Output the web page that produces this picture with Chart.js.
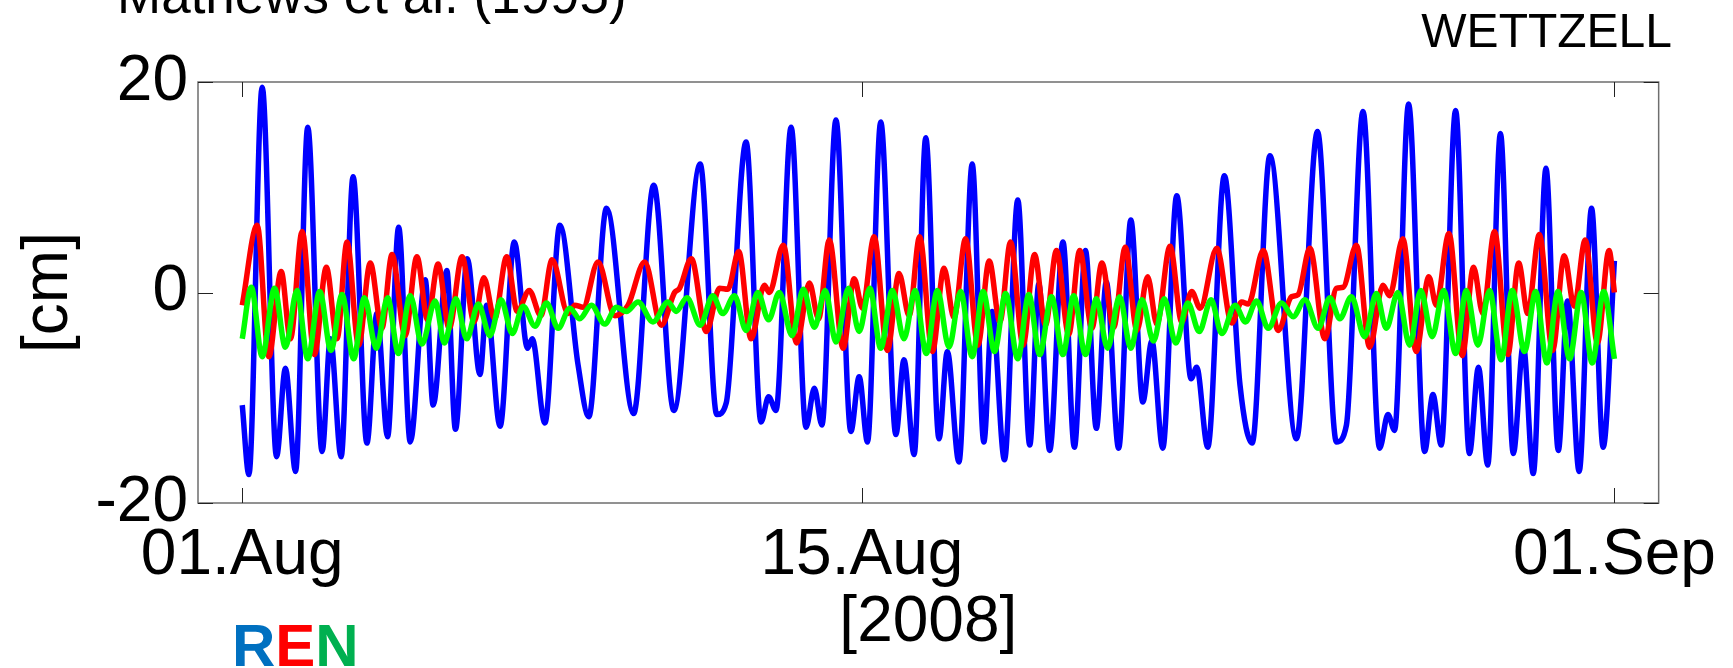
<!DOCTYPE html>
<html>
<head>
<meta charset="utf-8">
<title>WETTZELL</title>
<script src="https://cdn.jsdelivr.net/npm/chart.js@4.4.1/dist/chart.umd.min.js"></script>
<style>
  html, body { margin: 0; padding: 0; background: #fff; }
  #wrap { width: 1733px; height: 668px; }
</style>
</head>
<body>
<div id="wrap"><canvas id="tides" width="1733" height="668"></canvas></div>
<script>
const radial = [
  [0, -10.7], [3.6, -17.3], [10.8, 19.5], [18.6, -15.6], [23.4, -7.2], [28.9, -17.0],
  [35.5, 15.7], [43.3, -15.1], [47.8, -4.4], [53.6, -15.6], [60.1, 11.0], [67.6, -14.3],
  [73.0, -2.0], [78.8, -13.7], [84.8, 6.2], [91.1, -14.2], [99.2, 1.2], [103.5, -10.7],
  [110.9, 2.1], [115.6, -13.0], [122.0, 3.2], [128.9, -7.8], [132.5, -1.2], [139.8, -12.7],
  [147.5, 4.8], [154.7, -5.3], [157.2, -4.4], [164.1, -12.4], [172.2, 6.4], [182.1, -6.9],
  [187.9, -11.8], [197.5, 8.0], [212.2, -11.5], [223.1, 10.2], [234.0, -11.2], [248.3, 12.2],
  [257.3, -11.6], [262.4, -10.5], [273.2, 14.3], [281.3, -12.3], [285.4, -9.9], [289.4, -11.2],
  [297.6, 15.7], [305.7, -12.8], [310.2, -9.1], [314.3, -12.6], [321.9, 16.4], [330.0, -13.2],
  [334.5, -8.0], [339.0, -14.2], [346.2, 16.2], [354.4, -13.5], [358.8, -6.4], [364.3, -15.4],
  [370.6, 14.7], [377.8, -13.9], [382.3, -5.6], [388.6, -16.1], [395.8, 12.2], [402.1, -14.2],
  [406.6, -1.8], [413.3, -15.9], [420.5, 8.8], [427.0, -14.5], [431.9, 0.8], [437.8, -15.0],
  [445.0, 4.8], [451.2, -14.7], [457.2, 4.0], [463.1, -12.9], [468.5, 1.0], [475.2, -14.8],
  [481.8, 6.9], [488.3, -10.4], [493.2, -4.6], [499.1, -14.8], [506.7, 9.2], [514.5, -8.2],
  [517.5, -7.1], [523.5, -14.7], [532.5, 11.1], [541.0, -8.8], [547.6, -14.3], [557.2, 13.0],
  [571.6, -13.9], [583.0, 15.3], [593.3, -14.2], [598.7, -12.6], [607.7, 17.2], [616.7, -14.8],
  [621.2, -11.6], [624.8, -13.1], [632.4, 17.9], [641.1, -15.1], [645.6, -9.7], [650.1, -14.5],
  [657.9, 17.3], [665.4, -15.3], [670.3, -7.1], [675.3, -16.4], [682.2, 15.1], [689.2, -15.3],
  [694.6, -5.0], [700.0, -17.2], [706.9, 11.8], [713.6, -15.0], [718.6, -0.8], [724.9, -17.0],
  [731.6, 8.0], [737.9, -14.7], [744.0, 3.0]
];

const east = [
  [0, -1.2], [8.1, 6.4], [14.4, -6.1], [21.1, 2.0], [26.1, -4.4], [32.5, 5.8], [39.1, -5.9],
  [45.6, 2.4], [51.4, -4.4], [56.8, 4.8], [63.1, -5.0], [69.4, 2.8], [75.7, -3.4], [81.2, 3.6],
  [88.3, -4.1], [94.7, 3.4], [100.5, -2.6], [106.2, 2.7], [112.2, -3.4], [119.2, 3.4],
  [125.7, -2.8], [131.0, 1.4], [136.8, -2.5], [143.4, 3.4], [149.1, -1.8], [155.6, 0.2],
  [161.9, -2.2], [168.0, 3.1], [176.7, -2.0], [180.3, -1.2], [184.8, -1.4], [192.9, 2.9],
  [202.0, -2.2], [209.2, -1.2], [218.2, 2.9], [227.2, -3.1], [234.4, 0.0], [237.1, 0.4],
  [243.5, 3.2], [251.6, -3.7], [258.8, 0.4], [263.3, 0.3], [269.2, 3.9], [275.9, -4.4],
  [283.1, 0.7], [285.8, 0.0], [293.4, 4.5], [300.6, -4.8], [307.5, 0.9], [312.5, -2.5],
  [318.3, 5.0], [325.8, -5.3], [331.8, 1.3], [336.3, -1.5], [342.6, 5.3], [349.8, -5.5],
  [356.1, 1.8], [361.6, -2.2], [367.3, 5.3], [374.2, -5.6], [380.5, 2.3], [385.9, -2.4],
  [392.2, 5.1], [398.9, -5.0], [405.0, 3.0], [410.8, -2.8], [416.6, 4.8], [423.4, -5.0],
  [429.6, 3.6], [435.5, -3.1], [441.5, 4.0], [448.1, -4.0], [454.1, 4.0], [460.7, -3.4],
  [466.1, 2.8], [472.5, -3.3], [478.8, 4.3], [485.1, -3.6], [490.9, 1.5], [495.9, -3.0],
  [503.1, 4.4], [509.4, -2.8], [514.8, 0.1], [519.4, -1.5], [528.4, 4.2], [536.5, -2.9],
  [541.9, -0.9], [545.5, -1.1], [553.6, 4.0], [561.7, -3.6], [568.9, -0.4], [572.5, -0.2],
  [578.9, 4.2], [587.0, -4.4], [593.3, 0.4], [596.9, 0.5], [604.1, 4.5], [611.3, -5.2],
  [618.5, 0.7], [622.1, -0.3], [629.3, 5.1], [636.5, -5.6], [643.4, 1.5], [647.4, -1.2],
  [654.3, 5.6], [661.5, -6.0], [667.6, 2.4], [672.7, -2.0], [679.0, 5.8], [686.2, -5.9],
  [692.1, 2.8], [697.0, -2.0], [703.3, 5.5], [710.5, -5.5], [716.8, 3.5], [722.2, -1.3],
  [728.2, 5.0], [734.8, -4.8], [741.1, 4.0], [744.0, 0.0]
];

const north = [
  [0, -4.4], [4.9, 0.5], [10.8, -6.1], [17.5, 0.4], [23.4, -5.2], [29.7, 0.2], [35.5, -6.3],
  [42.0, 0.1], [48.1, -5.5], [54.1, -0.2], [60.4, -6.3], [66.2, -0.5], [72.7, -5.3], [78.8, -0.5],
  [84.7, -5.8], [91.1, -0.3], [97.4, -4.9], [104.6, -0.8], [109.6, -4.8], [115.8, -0.6],
  [121.7, -4.4], [128.0, -1.1], [134.3, -4.1], [140.3, -0.7], [146.4, -3.9], [152.3, -1.3],
  [158.7, -3.2], [165.0, -1.0], [171.3, -3.4], [177.6, -1.5], [183.0, -2.5], [189.3, -1.2],
  [196.5, -3.0], [202.9, -1.4], [208.3, -1.8], [214.6, -0.9], [222.7, -2.8], [230.8, -0.9],
  [235.3, -1.8], [241.1, -0.5], [248.3, -3.1], [255.1, -0.3], [260.5, -2.0], [266.9, -0.3],
  [273.2, -3.6], [279.5, 0.0], [285.4, -2.6], [291.2, 0.0], [298.1, -4.1], [304.2, 0.3],
  [310.2, -3.3], [316.1, 0.2], [321.9, -4.7], [328.7, 0.4], [334.5, -3.7], [340.3, 0.4],
  [346.2, -5.3], [352.5, 0.2], [358.8, -4.4], [364.8, 0.2], [370.9, -5.8], [376.9, 0.2],
  [383.2, -5.2], [389.5, 0.1], [395.8, -6.1], [401.7, 0.1], [407.9, -5.6], [413.9, -0.1],
  [420.5, -6.3], [426.5, -0.2], [432.4, -5.9], [438.8, -0.4], [445.0, -5.9], [450.8, -0.3],
  [457.2, -5.9], [463.1, -0.6], [469.2, -5.3], [475.7, -0.4], [481.8, -5.3], [487.8, -0.7],
  [494.1, -4.6], [499.9, -0.6], [506.2, -4.8], [512.7, -1.0], [518.9, -3.7], [525.3, -0.7],
  [531.1, -3.9], [538.3, -1.2], [544.0, -2.8], [550.0, -0.8], [556.3, -3.4], [563.5, -1.0],
  [569.8, -2.3], [576.2, -0.7], [583.4, -3.4], [589.7, -0.5], [595.1, -2.5], [601.4, -0.4],
  [608.6, -4.2], [614.9, -0.1], [620.3, -3.4], [626.6, 0.0], [633.0, -5.0], [639.0, 0.2],
  [645.2, -4.2], [651.4, 0.2], [657.9, -5.8], [663.7, 0.2], [670.0, -5.0], [676.3, 0.2],
  [682.6, -6.4], [688.6, 0.2], [695.3, -5.6], [701.3, 0.1], [707.4, -6.7], [713.4, 0.1],
  [719.7, -6.3], [726.0, 0.0], [732.0, -6.7], [738.2, 0.1], [744.0, -6.3]
];

const tickHours = [0, 336, 744];
const tickLabels = ['01.Aug', '15.Aug', '01.Sep'];
const yTicks = [-20, 0, 20];

const toPoints = arr => arr.map(p => ({ x: p[0], y: p[1] }));
const FONT = '"Liberation Sans", Arial, Helvetica, sans-serif';

// box round the plot and the short inward ticks (matlab style)
const framePlugin = {
  id: 'frame',
  afterDatasetsDraw(chart) {
    const { ctx, chartArea: a, scales: { x, y } } = chart;
    ctx.save();
    ctx.strokeStyle = '#6e6e6e';
    ctx.lineWidth = 1.5;
    ctx.strokeRect(a.left, a.top, a.right - a.left, a.bottom - a.top);
    ctx.strokeStyle = '#222';
    ctx.lineWidth = 1;
    ctx.beginPath();
    tickHours.forEach(h => {
      const px = Math.round(x.getPixelForValue(h)) + 0.5;
      ctx.moveTo(px, a.bottom); ctx.lineTo(px, a.bottom - 15);
      ctx.moveTo(px, a.top); ctx.lineTo(px, a.top + 15);
    });
    yTicks.forEach(v => {
      const py = Math.round(y.getPixelForValue(v)) + 0.5;
      ctx.moveTo(a.left, py); ctx.lineTo(a.left + 15, py);
      ctx.moveTo(a.right, py); ctx.lineTo(a.right - 15, py);
    });
    ctx.stroke();
    ctx.restore();
  }
};

const labelsPlugin = {
  id: 'extraText',
  afterDraw(chart) {
    const ctx = chart.ctx;
    ctx.save();
    ctx.fillStyle = '#000';
    ctx.textBaseline = 'alphabetic';
    ctx.textAlign = 'left';
    ctx.font = '53px ' + FONT;
    ctx.fillText('Mathews et al. (1995)', 117, 13);
    ctx.textAlign = 'right';
    ctx.font = '48px ' + FONT;
    ctx.fillText('WETTZELL', 1672, 47);

    // R E N colour key
    ctx.textAlign = 'left';
    ctx.font = 'bold 60px ' + FONT;
    let xPos = 232;
    [['R', '#0070C0'], ['E', '#FF0000'], ['N', '#00B050']].forEach(([ch, col]) => {
      ctx.fillStyle = col;
      ctx.fillText(ch, xPos, 666);
      xPos += ctx.measureText(ch).width;
    });
    ctx.restore();
  }
};

const lineSet = (label, arr, color, order) => ({
  label: label,
  data: toPoints(arr),
  borderColor: color,
  backgroundColor: color,
  borderWidth: 5.5,
  pointRadius: 0,
  cubicInterpolationMode: 'monotone',
  fill: false,
  order: order
});

new Chart(document.getElementById('tides'), {
  type: 'line',
  data: {
    datasets: [
      lineSet('R', radial, '#0000FF', 3),
      lineSet('E', east, '#FF0000', 2),
      lineSet('N', north, '#00FF00', 1)
    ]
  },
  options: {
    responsive: false,
    animation: false,
    devicePixelRatio: 1,
    layout: { padding: { top: 82, right: 72, left: 0, bottom: 0 } },
    plugins: {
      legend: { display: false },
      tooltip: { enabled: false }
    },
    scales: {
      x: {
        type: 'linear',
        min: -24,
        max: 768,
        grid: { display: false, drawTicks: false },
        border: { display: false },
        afterBuildTicks: scale => { scale.ticks = tickHours.map(v => ({ value: v })); },
        afterFit: scale => { scale.height = 165; },
        ticks: {
          padding: 15,
          maxRotation: 0,
          autoSkip: false,
          color: '#000',
          font: { family: FONT, size: 64 },
          callback: v => tickLabels[tickHours.indexOf(v)]
        },
        title: {
          display: true,
          text: '[2008]',
          color: '#000',
          font: { family: FONT, size: 64 },
          padding: { top: 0, bottom: 6 }
        }
      },
      y: {
        min: -20,
        max: 20,
        grid: { display: false, drawTicks: false },
        border: { display: false },
        afterBuildTicks: scale => { scale.ticks = yTicks.map(v => ({ value: v })); },
        afterFit: scale => { scale.width = 198; },
        ticks: {
          padding: 10,
          color: '#000',
          font: { family: FONT, size: 64 }
        },
        title: {
          display: true,
          text: '[cm]',
          color: '#000',
          font: { family: FONT, size: 64 },
          padding: { top: 11, bottom: 0 }
        }
      }
    }
  },
  plugins: [framePlugin, labelsPlugin]
});
</script>
</body>
</html>
